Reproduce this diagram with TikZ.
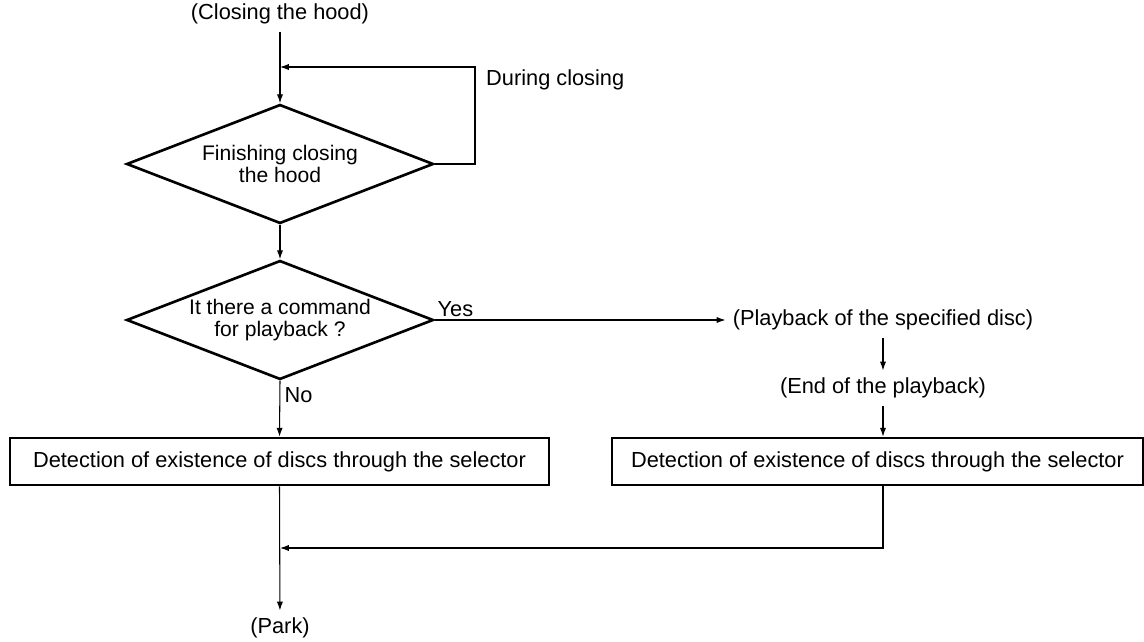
\documentclass[tikz,border=0pt]{standalone}
\usepackage{fontspec}
\setmainfont{Liberation Sans}
\usetikzlibrary{positioning,arrows.meta,shapes.geometric}

\begin{document}
\begin{tikzpicture}[
  x=0.02cm, y=-0.02cm,
  font=\fontsize{12.4}{13.8}\selectfont,
  dec/.style={draw, diamond, line width=1.5pt, aspect=2.56, minimum width=6.14cm, minimum height=2.38cm, inner sep=0pt, align=center, font=\fontsize{12}{13}\selectfont},
  box/.style={draw, line width=1.5pt, minimum height=0.94cm, align=center},
  term/.style={inner sep=4pt},
  arr/.style={-{Latex[length=5pt,width=3.5pt]}, line width=0.6pt}
]
\useasboundingbox (0,0) rectangle (1144,642);
\node[term]                            at (280,14)    (start) {(Closing the hood)};
\node[dec]                             at (280,164)   (fin)   {Finishing closing\\the hood};
\node[anchor=west]                     at (480,80)    (during){During closing};
\node[dec]                             at (280,320)   (cmd)   {It there a command\\for playback ?};
\node[term]                            at (883,320)   (play)  {(Playback of the specified disc)};
\node[term]                            at (883,388)   (endp)  {(End of the playback)};
\node[box, minimum width=10.78cm]      at (279.5,461.5) (lbox) {Detection of existence of discs through the selector};
\node[box, minimum width=10.62cm]      at (877.5,461.5) (rbox) {Detection of existence of discs through the selector};
\node[term]                            at (280,628)   (park)  {(Park)};
\coordinate (back)  at (475,67);
\coordinate (loop)  at (280,67);
\coordinate (merge) at (280,548);
\draw[arr] (start) -- (fin.north);
\draw[arr] (fin.east) -| (back) -- (loop);
\draw[arr] (fin.south) -- (cmd.north);
\draw[arr] (cmd.east) -- node[pos=0, above right=-2pt and -2pt]{Yes} (play.west);
\draw[arr] (play) -- (endp);
\draw[arr] (endp.south) -- (endp.south |- rbox.north);
\draw[arr] (cmd.south) -- node[pos=0, below right=0pt and -1pt]{No} (lbox.north);
\draw[arr] (lbox.south) -- (park);
\draw[arr] (rbox.south -| endp.south) |- (merge);
\end{tikzpicture}
\end{document}
